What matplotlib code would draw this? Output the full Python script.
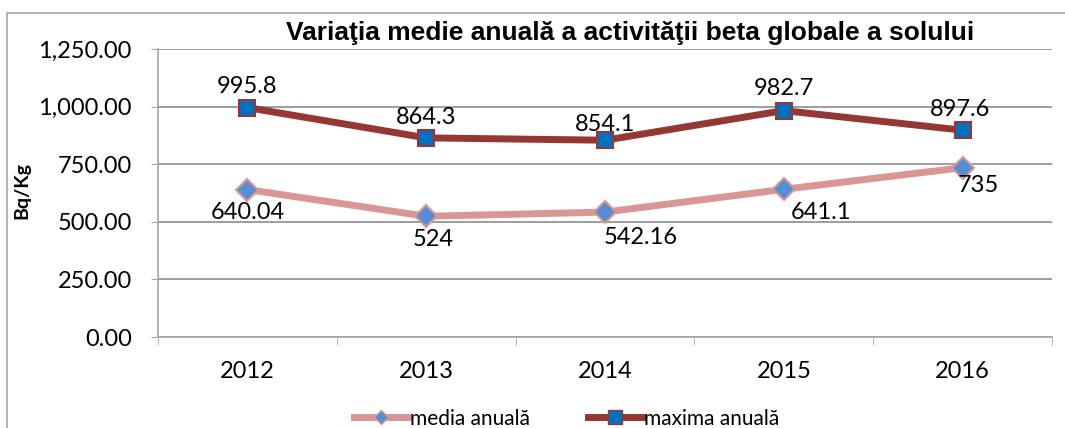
import numpy as np
import matplotlib.pyplot as plt
from matplotlib.lines import Line2D
from matplotlib.patches import Rectangle

years = ['2012', '2013', '2014', '2015', '2016']
media_anuala = [640.04, 524, 542.16, 641.1, 735]
maxima_anuala = [995.8, 864.3, 854.1, 982.7, 897.6]
media_labels = ['640.04', '524', '542.16', '641.1', '735']
maxima_labels = ['995.8', '864.3', '854.1', '982.7', '897.6']
y_ticks = [0, 250, 500, 750, 1000, 1250]

plt.rcParams['font.family'] = ['Lato', 'DejaVu Sans']

fig = plt.figure(figsize=(10.65, 4.28), dpi=100)
ax = fig.add_axes([0.1484, 0.2126, 0.8394, 0.6729])

# chenarul graficului
fig.patches.append(Rectangle((0.0066, -0.1), 1.2, 1.0696, transform=fig.transFigure,
                             fill=False, edgecolor='#a6a6a6', linewidth=1.2))

x = np.arange(len(years))
c_media = '#D99694'
c_max = '#953735'

ax.plot(x, media_anuala, color=c_media, linewidth=5, marker='D', markersize=11.5,
        markerfacecolor='#558ED5', markeredgecolor=c_media, markeredgewidth=1.5,
        label='media anuală', zorder=3)
ax.plot(x, maxima_anuala, color=c_max, linewidth=5, marker='s', markersize=11,
        markerfacecolor='#0070C0', markeredgecolor=c_max, markeredgewidth=1.5,
        label='maxima anuală', zorder=4)

# etichete date
max_off = [(0, 15), (0, 15), (0, 11), (0, 16), (-2, 15)]
med_off = [(0, -16.5), (5, -16.5), (26, -18), (27, -16.5), (11, -12.5)]
for i in range(len(years)):
    ax.annotate(maxima_labels[i], (x[i], maxima_anuala[i]), xytext=max_off[i],
                textcoords='offset points', ha='center', va='center', fontsize=17)
    ax.annotate(media_labels[i], (x[i], media_anuala[i]), xytext=med_off[i],
                textcoords='offset points', ha='center', va='center', fontsize=17)

ax.set_xlim(-0.5, len(years) - 0.5)
ax.set_ylim(0, 1250)
ax.set_yticks(y_ticks)
ax.set_yticklabels(['{:,.2f}'.format(v) for v in y_ticks], fontsize=17)
ax.set_xticks(x)
ax.set_xticklabels(years, fontsize=17)
ax.set_xticks(np.arange(-0.5, len(years)), minor=True)
ax.tick_params(axis='x', which='major', length=0, pad=17)
ax.tick_params(axis='x', which='minor', length=6, color='#a6a6a6', direction='out')
ax.tick_params(axis='y', length=5, color='#a6a6a6', pad=14)

ax.grid(axis='y', color='#8c8c8c', linewidth=1.2)
ax.set_axisbelow(True)
for s in ['top', 'right']:
    ax.spines[s].set_visible(False)
ax.spines['left'].set_color('#a6a6a6')
ax.spines['bottom'].set_color('#a6a6a6')
ax.spines['left'].set_linewidth(1.2)
ax.spines['bottom'].set_linewidth(1.2)

ax.set_ylabel('Bq/Kg', fontsize=14, fontweight='bold')
ax.yaxis.set_label_coords(-0.143, 0.51)

fig.text(0.592, 0.923, 'Variaţia medie anuală a activităţii beta globale a solului',
         ha='center', va='center', fontsize=19, fontweight='bold',
         family=['Liberation Sans Narrow', 'Liberation Sans', 'DejaVu Sans'])

handles = [Line2D([], [], color=c_media, linewidth=5, marker='D', markersize=7,
                  markerfacecolor='#558ED5', markeredgecolor=c_media),
           Line2D([], [], color=c_max, linewidth=5, marker='s', markersize=10,
                  markerfacecolor='#0070C0', markeredgecolor=c_max)]
fig.legend(handles, ['media anuală', 'maxima anuală'], loc='center',
           bbox_to_anchor=(0.532, 0.022), ncol=2, frameon=False, fontsize=15,
           handlelength=2.6, handletextpad=0.1, columnspacing=2.8)

fig.savefig('out.png', dpi=100)
